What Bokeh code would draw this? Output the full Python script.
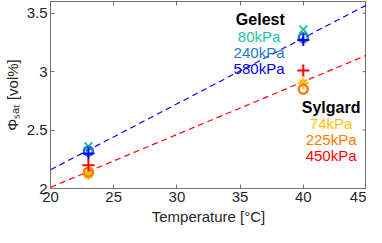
from bokeh.plotting import figure
from bokeh.models import LinearAxis, Range1d, FixedTicker
from bokeh.core.properties import value
from bokeh.embed import file_html
from bokeh.resources import INLINE

# data
temps = [23, 40]
gelest_80 = [2.36, 3.36]
gelest_240 = [2.32, 3.29]
gelest_580 = [2.30, 3.27]
sylgard_74 = [2.12, 2.90]
sylgard_225 = [2.14, 2.85]
sylgard_450 = [2.20, 3.01]
fit_x = [20, 45]
gelest_fit = [2.16, 3.57]
sylgard_fit = [2.01, 3.14]
x_ticks = [20, 25, 30, 35, 40, 45]
y_ticks = [2, 2.5, 3, 3.5]

TEAL = "#20c4a0"
MID = "#1e78d2"
BLUE = "#0000ff"
YEL = "#ffbf00"
ORA = "#ff7a00"
RED = "#ff0000"
FONT = "Liberation Sans"
AX = "#262626"
BOX = "#707070"

X0, X1 = 20, 45
p = figure(width=366, height=227, output_backend="svg", toolbar_location=None,
           x_range=Range1d(X0, X1), y_range=Range1d(2, 3.6),
           min_border_left=40, min_border_right=0, min_border_top=1, min_border_bottom=0)
p.grid.visible = False
p.outline_line_color = BOX
p.background_fill_color = "white"

for ax in p.xaxis + p.yaxis:
    ax.major_tick_in = 4
    ax.major_tick_out = 0
    ax.minor_tick_line_color = None
    ax.axis_line_color = BOX
    ax.major_tick_line_color = BOX
    ax.major_label_text_font = FONT
    ax.major_label_text_font_size = "15px"
    ax.major_label_text_color = AX
    ax.axis_label_text_font = FONT
    ax.axis_label_text_font_size = "15px"
    ax.axis_label_text_font_style = "normal"
    ax.axis_label_text_color = AX
p.xaxis.ticker = FixedTicker(ticks=x_ticks)
p.yaxis.ticker = FixedTicker(ticks=y_ticks)
p.xaxis.major_label_standoff = 3
p.yaxis.major_label_standoff = 3
p.xaxis.axis_label = "Temperature [°C]"
p.yaxis.axis_label = "Φₛₐₜ [vol%]"
p.xaxis.axis_label_standoff = 3
p.yaxis.axis_label_standoff = 3

top = LinearAxis(ticker=FixedTicker(ticks=x_ticks), major_label_text_font_size="0px",
                 major_tick_in=4, major_tick_out=0, minor_tick_line_color=None,
                 axis_line_color=BOX, major_tick_line_color=BOX)
top.major_label_text_color = None
top.major_label_standoff = 0
p.add_layout(top, "above")

# right-side inward ticks (box style)
tick_len = (X1 - X0) * 4 / 322
p.segment(x0=[X1] * len(y_ticks), y0=y_ticks, x1=[X1 - tick_len] * len(y_ticks), y1=y_ticks,
          line_color=BOX, line_width=1)

# fits
p.line(fit_x, gelest_fit, line_color=BLUE, line_dash="6 4", line_width=1.2)
p.line(fit_x, sylgard_fit, line_color=RED, line_dash="6 4", line_width=1.2)

# markers
p.scatter(temps, sylgard_74, marker="asterisk", size=11, line_color=YEL, line_width=2)
p.scatter(temps, sylgard_225, marker="circle", size=9, line_color=ORA, fill_color=None, line_width=2.4)
p.scatter(temps, sylgard_450, marker="cross", size=12, line_color=RED, line_width=2)
p.scatter(temps, gelest_80, marker="x", size=11, line_color=TEAL, line_width=2)
p.scatter(temps, gelest_240, marker="circle", size=9, line_color=MID, fill_color=None, line_width=2.4)
p.scatter(temps, gelest_580, marker="cross", size=12, line_color=BLUE, line_width=2)

# legend texts
p.text(x=[36.6], y=[3.45], text=["Gelest"], text_font=value(FONT), text_font_size="16px",
       text_font_style="bold", text_color="black", text_align="center", text_baseline="middle")
p.text(x=[36.5, 36.5, 36.5], y=[3.30, 3.165, 3.025], text=["80kPa", "240kPa", "580kPa"],
       text_font=value(FONT), text_font_size="15px", text_color=[TEAL, MID, BLUE],
       text_align="center", text_baseline="middle")
p.text(x=[42.2], y=[2.695], text=["Sylgard"], text_font=value(FONT), text_font_size="16px",
       text_font_style="bold", text_color="black", text_align="center", text_baseline="middle")
p.text(x=[42.2, 42.2, 42.2], y=[2.555, 2.42, 2.28], text=["74kPa", "225kPa", "450kPa"],
       text_font=value(FONT), text_font_size="15px", text_color=[YEL, ORA, RED],
       text_align="center", text_baseline="middle")

open("out.html", "w").write(file_html(p, INLINE))
